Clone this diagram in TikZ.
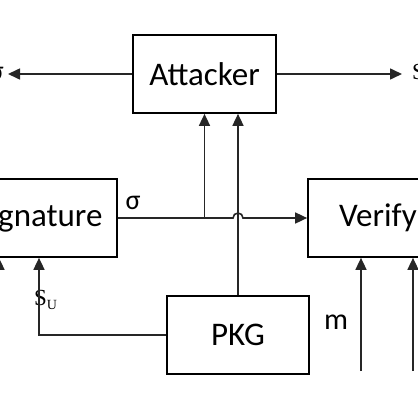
\documentclass[tikz,border=0pt]{standalone}
\usepackage{fontspec}
\setmainfont{Carlito}
\newfontfamily\serifsym{Liberation Serif}
\usetikzlibrary{arrows.meta}
\begin{document}
\begin{tikzpicture}[x=1pt,y=-1pt,
  box/.style={draw=black,line width=1.7pt,minimum width=142pt,minimum height=78pt,
    inner sep=0pt,font=\fontsize{33}{38}\selectfont},
  arrow/.style={-{Triangle[length=12pt,width=11pt]},line width=1.6pt,draw=black!85},
  lbl/.style={inner sep=0pt,font=\fontsize{28}{32}\selectfont},
  symlbl/.style={inner sep=0pt,font=\serifsym\fontsize{23}{27}\selectfont}]
  \useasboundingbox (0,0) rectangle (418,418);
  \clip (0,0) rectangle (418,418);
  \node[box,minimum width=143pt] (att) at (204.5,74) {Attacker};
  \node[box,minimum width=156pt] (sig) at (39,218) {Signature};
  \node[box,minimum width=140pt] (ver) at (378,218) {Verify};
  \node[box] (pkg) at (238,335) {PKG};
  \node[lbl,anchor=east] (sgout) at (4,74) {σ};
  \node[symlbl,anchor=west] (sout) at (412,74) {S\raisebox{-0.35ex}{\fontsize{14}{14}\selectfont U}};
  \node[lbl] (sg) at (133,203) {σ};
  \node[symlbl,anchor=west] (su) at (34,300) {S\raisebox{-0.35ex}{\fontsize{14}{14}\selectfont U}};
  \node[lbl,font=\fontsize{30}{34}\selectfont] (mm) at (336,322) {m};
  \coordinate (hop) at (pkg.north |- sig.east);
  \coordinate (inl) at (-1,372);
  \coordinate (in1) at (361,371);
  \coordinate (in2) at (413,371);
  \draw[arrow,shorten >=4pt] (att.west) -- (sgout.east);
  \draw[arrow,shorten >=10pt] (att.east) -- (sout.west);
  \draw[arrow] (sig.east) -- ([xshift=-5pt]hop) arc[start angle=180,end angle=360,radius=5] -- (ver.west);
  \draw[arrow] (att.south |- sig.east) -- (att.south);
  \draw[arrow] (pkg.north) -- (pkg.north |- att.south);
  \draw[arrow] (pkg.west) -| (sig.south);
  \draw[arrow] (inl) -- (inl |- sig.south);
  \draw[arrow] (in1) -- (in1 |- ver.south);
  \draw[arrow] (in2) -- (in2 |- ver.south);
\end{tikzpicture}
\end{document}
